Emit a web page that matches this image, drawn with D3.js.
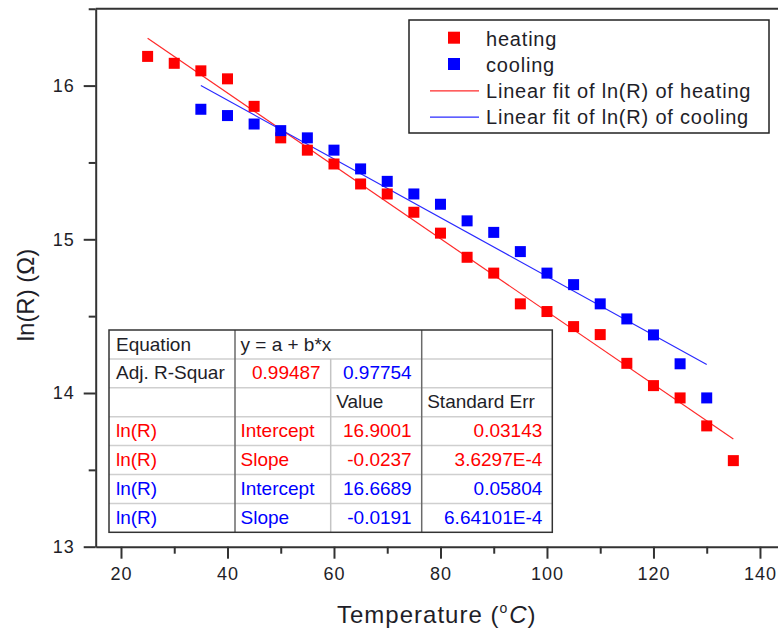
<!DOCTYPE html>
<html><head><meta charset="utf-8">
<script src="https://cdn.jsdelivr.net/npm/d3@7/dist/d3.min.js"></script>
<style>
html,body{margin:0;padding:0;background:#fff;}
svg{display:block;font-family:"Liberation Sans",Arial,sans-serif;}
</style></head>
<body>
<svg id="chart" width="778" height="632"></svg>
<script>
// ---- data ----
const heatingT = [25,30,35,40,45,50,55,60,65,70,75,80,85,90,95,100,105,110,115,120,125,130,135];
const heatingLnR = [16.19,16.145,16.096,16.044,15.865,15.66,15.58,15.49,15.36,15.295,15.176,15.04,14.883,14.78,14.58,14.53,14.432,14.38,14.193,14.048,13.968,13.786,13.56];
const coolingT = [35,40,45,50,55,60,65,70,75,80,85,90,95,100,105,110,115,120,125,130];
const coolingLnR = [15.846,15.805,15.75,15.707,15.66,15.58,15.458,15.377,15.295,15.228,15.12,15.045,14.92,14.78,14.705,14.58,14.482,14.378,14.19,13.968];
const seriesNames = ["heating","cooling"];
const fitNames = ["Linear fit of ln(R) of heating","Linear fit of ln(R) of cooling"];
const fitIntercept = [16.9001, 16.6689];
const fitSlope = [-0.0237, -0.0191];
const fitRange = [[25,135],[35,130]];
const adjR2 = ["0.99487","0.97754"];
const interceptText = ["16.9001","16.6689"];
const slopeText = ["-0.0237","-0.0191"];
const interceptErr = ["0.03143","0.05804"];
const slopeErr = ["3.6297E-4","6.64101E-4"];
const xMajorTicks = [20,40,60,80,100,120,140];
const xMinorTicks = [30,50,70,90,110,130];
const yMajorTicks = [13,14,15,16];
const yMinorTicks = [13.5,14.5,15.5,16.5];

// ---- styles ----
const RED = "#ff0000", BLUE = "#0000ff";
const FIT_RED = "#ff2a2a", FIT_BLUE = "#2a2aff";
const TXT = "#1e1e28";
const AX = "#333";

const svg = d3.select("#chart");
const x = d3.scaleLinear().domain([15.25, 143.5]).range([95.7, 778.6]);
const y = d3.scaleLinear().domain([13, 16.5]).range([546.7, 8.75]);

// axes
function styleAxis(g){
  g.selectAll(".domain").attr("stroke",AX).attr("stroke-width",2);
  g.selectAll(".tick line").attr("stroke",AX).attr("stroke-width",2);
  g.selectAll(".tick text").attr("fill",TXT).style("font-size","18px").style("letter-spacing","1px")
    .style("font-family",'"Liberation Sans",Arial,sans-serif');
}
const xAxisG = svg.append("g").attr("transform","translate(0,546.7)");
xAxisG.call(d3.axisBottom(x).tickValues(xMajorTicks).tickSize(12).tickSizeOuter(0).tickPadding(9).tickFormat(d3.format("d")));
styleAxis(xAxisG);
const xMinorG = svg.append("g").attr("transform","translate(0,546.7)");
xMinorG.call(d3.axisBottom(x).tickValues(xMinorTicks).tickSize(7).tickSizeOuter(0).tickFormat(""));
styleAxis(xMinorG);
xMinorG.select(".domain").remove();

const yAxisG = svg.append("g").attr("transform","translate(95.7,0)");
yAxisG.call(d3.axisLeft(y).tickValues(yMajorTicks).tickSize(12).tickSizeOuter(0).tickPadding(9).tickFormat(d3.format("d")));
styleAxis(yAxisG);
const yMinorG = svg.append("g").attr("transform","translate(95.7,0)");
yMinorG.call(d3.axisLeft(y).tickValues(yMinorTicks).tickSize(7).tickSizeOuter(0).tickFormat(""));
styleAxis(yMinorG);
yMinorG.select(".domain").remove();

// top frame line
svg.append("line").attr("x1",x.range()[0]).attr("x2",x.range()[1]).attr("y1",y(16.5)).attr("y2",y(16.5))
  .attr("stroke",AX).attr("stroke-width",2);

// axis titles
const xt = svg.append("text").attr("x",337).attr("y",623).attr("fill",TXT)
  .style("font-size","24px").style("letter-spacing","1px");
xt.append("tspan").text("Temperature (");
xt.append("tspan").text("o").style("font-size","14px").attr("dy",-10);
xt.append("tspan").text("C").style("font-style","italic").attr("dy",10).attr("dx",1);
xt.append("tspan").text(")");

svg.append("text").attr("transform","translate(34,295) rotate(-90)").attr("text-anchor","middle")
  .attr("fill",TXT).style("font-size","24px").text("ln(R) (Ω)");

// fit lines
const line = d3.line().x(d=>x(d[0])).y(d=>y(d[1]));
[0,1].forEach(i=>{
  const pts = fitRange[i].map(t=>[t, fitIntercept[i] + fitSlope[i]*t]);
  svg.append("path").attr("d",line(pts)).attr("fill","none")
    .attr("stroke", i===0?FIT_RED:FIT_BLUE).attr("stroke-width",1.2);
});

// markers
const MS = 11;
svg.append("g").selectAll("rect").data(heatingT.map((t,i)=>[t,heatingLnR[i]])).join("rect")
  .attr("x",d=>x(d[0])-MS/2).attr("y",d=>y(d[1])-MS/2).attr("width",MS).attr("height",MS).attr("fill",RED);
svg.append("g").selectAll("rect").data(coolingT.map((t,i)=>[t,coolingLnR[i]])).join("rect")
  .attr("x",d=>x(d[0])-MS/2).attr("y",d=>y(d[1])-MS/2).attr("width",MS).attr("height",MS).attr("fill",BLUE);

// legend
const lg = svg.append("g");
lg.append("rect").attr("x",409).attr("y",20).attr("width",360).attr("height",113)
  .attr("fill","#fff").attr("stroke","#222").attr("stroke-width",1.5);
const legendItems = [
  {type:"m", color:RED, label:seriesNames[0]},
  {type:"m", color:BLUE, label:seriesNames[1]},
  {type:"l", color:FIT_RED, label:fitNames[0]},
  {type:"l", color:FIT_BLUE, label:fitNames[1]}
];
legendItems.forEach((it,i)=>{
  const base = 45.5 + i*26.3;
  const cy = base - 7.8;
  if(it.type==="m"){
    lg.append("rect").attr("x",454-6).attr("y",cy-6).attr("width",12).attr("height",12).attr("fill",it.color);
  } else {
    lg.append("line").attr("x1",430).attr("x2",479).attr("y1",cy+0.5).attr("y2",cy+0.5)
      .attr("stroke",it.color).attr("stroke-width",1.2);
  }
  lg.append("text").attr("x",486).attr("y",base).attr("fill",TXT)
    .style("font-size","20px").style("letter-spacing","0.8px").text(it.label);
});

// table
const colX = [109, 235, 330.7, 421.7, 552.3];
const rowH = 28.9, tTop = 330;
const nRows = 7;
const tg = svg.append("g");
tg.append("rect").attr("x",colX[0]).attr("y",tTop).attr("width",colX[4]-colX[0]).attr("height",rowH*nRows)
  .attr("fill","#fff");
// horizontal inner lines
for(let r=1;r<nRows;r++){
  tg.append("line").attr("x1",colX[0]).attr("x2",colX[4]).attr("y1",tTop+r*rowH).attr("y2",tTop+r*rowH)
    .attr("stroke","#cfcfcf").attr("stroke-width",1.5);
}
// vertical lines
tg.append("line").attr("x1",colX[1]).attr("x2",colX[1]).attr("y1",tTop).attr("y2",tTop+rowH*nRows)
  .attr("stroke","#6a6a6a").attr("stroke-width",1.5);
tg.append("line").attr("x1",colX[2]).attr("x2",colX[2]).attr("y1",tTop+rowH).attr("y2",tTop+rowH*nRows)
  .attr("stroke","#c4c4c4").attr("stroke-width",1.5);
tg.append("line").attr("x1",colX[3]).attr("x2",colX[3]).attr("y1",tTop).attr("y2",tTop+rowH*nRows)
  .attr("stroke","#6a6a6a").attr("stroke-width",1.5);
tg.append("rect").attr("x",colX[0]).attr("y",tTop).attr("width",colX[4]-colX[0]).attr("height",rowH*nRows)
  .attr("fill","none").attr("stroke","#333").attr("stroke-width",1.5);

// cells: [row, col, text, color, align]
const cells = [
  [0,0,"Equation",TXT,"l"],[0,1,"y = a + b*x",TXT,"l"],
  [1,0,"Adj. R-Squar",TXT,"l"],[1,1,adjR2[0],RED,"r"],[1,2,adjR2[1],BLUE,"r"],
  [2,2,"Value",TXT,"l"],[2,3,"Standard Err",TXT,"l"],
  [3,0,"ln(R)",RED,"l"],[3,1,"Intercept",RED,"l"],[3,2,interceptText[0],RED,"r"],[3,3,interceptErr[0],RED,"r"],
  [4,0,"ln(R)",RED,"l"],[4,1,"Slope",RED,"l"],[4,2,slopeText[0],RED,"r"],[4,3,slopeErr[0],RED,"r"],
  [5,0,"ln(R)",BLUE,"l"],[5,1,"Intercept",BLUE,"l"],[5,2,interceptText[1],BLUE,"r"],[5,3,interceptErr[1],BLUE,"r"],
  [6,0,"ln(R)",BLUE,"l"],[6,1,"Slope",BLUE,"l"],[6,2,slopeText[1],BLUE,"r"],[6,3,slopeErr[1],BLUE,"r"]
];
cells.forEach(([r,c,t,col,al])=>{
  const base = tTop + r*rowH + 20.5;
  const padL = c===0?7:5.5;
  const tx = al==="l" ? colX[c]+padL : colX[c+1]-10;
  tg.append("text").attr("x",tx).attr("y",base).attr("text-anchor",al==="l"?"start":"end")
    .attr("fill",col).style("font-size","19px").text(t);
});
</script>
</body></html>
